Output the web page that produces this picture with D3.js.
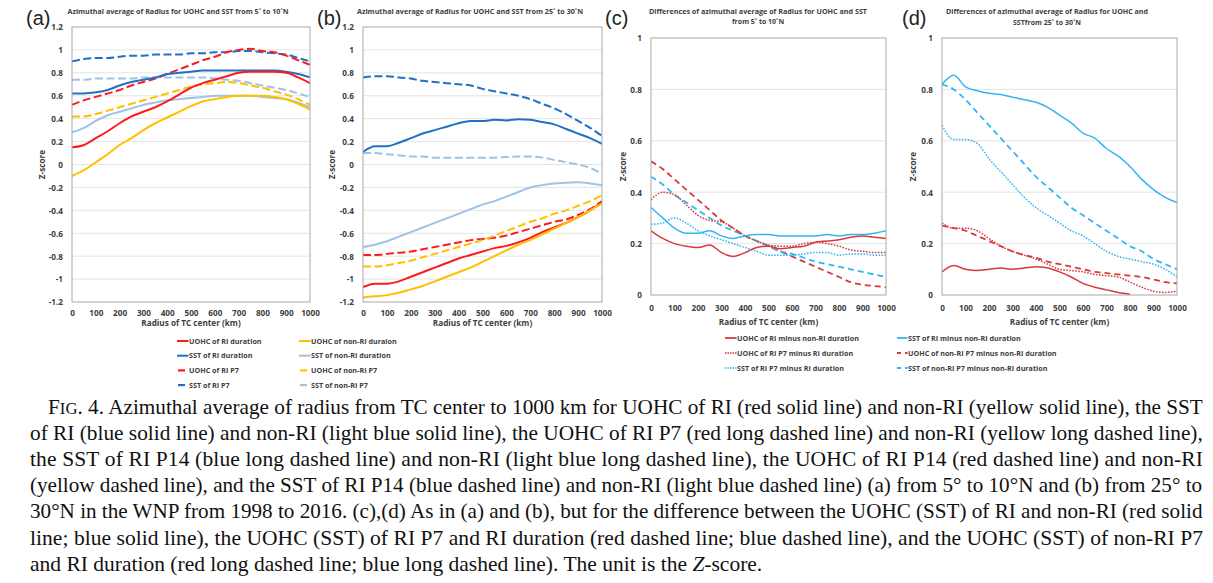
<!DOCTYPE html>
<html><head><meta charset="utf-8">
<script src="https://cdn.jsdelivr.net/npm/d3@7"></script>
<style>
html,body{margin:0;padding:0;background:#fff;}
svg{display:block;}
</style>
</head><body>
<svg id="chart" width="1213" height="583"></svg>
<script>
// ---------- data ----------
const radius = [0,50,100,150,200,250,300,350,400,450,500,550,600,650,700,750,800,850,900,950,1000];
const xTicks = [0,100,200,300,400,500,600,700,800,900,1000];
const yTicksAB = [-1.2,-1,-0.8,-0.6,-0.4,-0.2,0,0.2,0.4,0.6,0.8,1,1.2];
const yTicksCD = [0,0.2,0.4,0.6,0.8,1];

// panel (a) 5-10N
const a_uohcRI      = [0.15,0.17,0.23,0.29,0.36,0.42,0.46,0.50,0.55,0.61,0.67,0.71,0.74,0.77,0.80,0.81,0.81,0.81,0.80,0.76,0.71];
const a_sstRI       = [0.62,0.62,0.63,0.65,0.69,0.72,0.74,0.76,0.79,0.80,0.81,0.82,0.82,0.82,0.82,0.82,0.82,0.82,0.81,0.79,0.76];
const a_uohcRIP7    = [0.52,0.56,0.59,0.62,0.65,0.69,0.72,0.75,0.79,0.83,0.87,0.91,0.94,0.98,1.00,1.01,0.99,0.98,0.95,0.91,0.87];
const a_sstRIP7     = [0.90,0.92,0.93,0.93,0.94,0.95,0.95,0.96,0.96,0.96,0.97,0.97,0.98,0.98,0.99,0.99,0.98,0.97,0.96,0.93,0.90];
const a_uohcNon     = [-0.10,-0.05,0.02,0.09,0.17,0.23,0.30,0.36,0.41,0.46,0.51,0.55,0.57,0.59,0.60,0.60,0.60,0.59,0.57,0.53,0.48];
const a_sstNon      = [0.28,0.32,0.38,0.43,0.46,0.49,0.52,0.54,0.56,0.57,0.58,0.59,0.60,0.60,0.60,0.60,0.59,0.58,0.57,0.54,0.50];
const a_uohcNonP7   = [0.42,0.42,0.44,0.47,0.50,0.53,0.56,0.59,0.62,0.65,0.68,0.70,0.71,0.72,0.71,0.69,0.67,0.64,0.61,0.57,0.52];
const a_sstNonP7    = [0.74,0.74,0.75,0.75,0.75,0.75,0.76,0.76,0.76,0.76,0.76,0.76,0.75,0.74,0.73,0.71,0.69,0.67,0.65,0.62,0.59];

// panel (b) 25-30N
const b_uohcRI      = [-1.07,-1.04,-1.04,-1.02,-0.98,-0.94,-0.90,-0.86,-0.82,-0.79,-0.76,-0.73,-0.71,-0.68,-0.64,-0.59,-0.55,-0.51,-0.46,-0.40,-0.33];
const b_sstRI       = [0.11,0.16,0.16,0.19,0.23,0.27,0.30,0.33,0.36,0.38,0.38,0.39,0.385,0.395,0.39,0.37,0.35,0.31,0.27,0.23,0.18];
const b_uohcRIP7    = [-0.79,-0.79,-0.78,-0.77,-0.76,-0.74,-0.72,-0.70,-0.68,-0.66,-0.65,-0.64,-0.62,-0.59,-0.56,-0.53,-0.50,-0.48,-0.44,-0.39,-0.32];
const b_sstRIP7     = [0.76,0.77,0.77,0.76,0.75,0.73,0.72,0.71,0.70,0.69,0.66,0.64,0.62,0.60,0.57,0.53,0.49,0.44,0.38,0.32,0.25];
const b_uohcNon     = [-1.16,-1.15,-1.14,-1.12,-1.09,-1.06,-1.02,-0.98,-0.94,-0.90,-0.85,-0.80,-0.75,-0.70,-0.66,-0.61,-0.56,-0.51,-0.46,-0.40,-0.34];
const b_sstNon      = [-0.72,-0.70,-0.67,-0.63,-0.59,-0.55,-0.51,-0.47,-0.43,-0.39,-0.35,-0.32,-0.28,-0.24,-0.20,-0.18,-0.165,-0.16,-0.155,-0.165,-0.18];
const b_uohcNonP7   = [-0.89,-0.89,-0.88,-0.86,-0.84,-0.81,-0.78,-0.75,-0.72,-0.69,-0.66,-0.62,-0.58,-0.54,-0.50,-0.47,-0.43,-0.40,-0.36,-0.32,-0.27];
const b_sstNonP7    = [0.10,0.10,0.09,0.08,0.07,0.07,0.06,0.06,0.06,0.06,0.06,0.06,0.065,0.07,0.07,0.06,0.04,0.02,0.00,-0.03,-0.08];

// panel (c) differences 5-10N
const c_uohcRIminusNon   = [0.25,0.22,0.20,0.19,0.185,0.195,0.165,0.15,0.165,0.185,0.19,0.18,0.185,0.19,0.205,0.21,0.215,0.225,0.23,0.225,0.22];
const c_uohcRIP7minusRI  = [0.37,0.40,0.39,0.35,0.31,0.29,0.285,0.26,0.23,0.21,0.195,0.19,0.19,0.20,0.205,0.20,0.19,0.175,0.17,0.165,0.165];
const c_sstRIP7minusRI   = [0.275,0.28,0.30,0.28,0.25,0.23,0.215,0.20,0.185,0.17,0.155,0.155,0.155,0.16,0.165,0.165,0.155,0.16,0.16,0.155,0.155];
const c_sstRIminusNon    = [0.34,0.30,0.26,0.24,0.24,0.25,0.23,0.22,0.23,0.235,0.235,0.23,0.23,0.23,0.23,0.235,0.23,0.235,0.235,0.24,0.25];
const c_uohcNonP7minusNon= [0.52,0.49,0.45,0.41,0.37,0.33,0.29,0.26,0.23,0.21,0.19,0.17,0.15,0.13,0.11,0.09,0.07,0.05,0.04,0.035,0.03];
const c_sstNonP7minusNon = [0.46,0.43,0.39,0.36,0.33,0.30,0.27,0.25,0.23,0.21,0.19,0.17,0.16,0.145,0.13,0.12,0.11,0.10,0.09,0.08,0.07];

// panel (d) differences 25-30N
const d_uohcRIminusNon   = [0.09,0.115,0.10,0.095,0.10,0.105,0.10,0.105,0.11,0.105,0.09,0.07,0.045,0.03,0.02,0.01,0.003,null,null,null,null];
const d_uohcRIP7minusRI  = [0.28,0.26,0.26,0.25,0.22,0.19,0.17,0.155,0.14,0.12,0.10,0.095,0.09,0.08,0.075,0.07,0.05,0.03,0.015,0.01,0.015];
const d_sstRIP7minusRI   = [0.66,0.605,0.605,0.59,0.53,0.48,0.43,0.38,0.34,0.31,0.28,0.25,0.23,0.20,0.17,0.15,0.14,0.13,0.12,0.10,0.07];
const d_sstRIminusNon    = [0.82,0.855,0.81,0.795,0.785,0.78,0.77,0.76,0.75,0.73,0.70,0.67,0.63,0.61,0.57,0.54,0.50,0.45,0.41,0.38,0.36];
const d_uohcNonP7minusNon= [0.27,0.26,0.25,0.23,0.21,0.19,0.17,0.155,0.145,0.13,0.12,0.11,0.10,0.09,0.085,0.08,0.075,0.07,0.06,0.05,0.045];
const d_sstNonP7minusNon = [0.82,0.80,0.76,0.71,0.66,0.61,0.56,0.51,0.46,0.42,0.38,0.34,0.31,0.28,0.25,0.22,0.19,0.17,0.14,0.12,0.10];

// legend labels
const legendAB_left  = ["UOHC of RI duration","SST of RI duration","UOHC of RI P7","SST of RI P7"];
const legendAB_right = ["UOHC of non-RI duraion","SST of non-RI duration","UOHC of non-RI P7","SST of non-RI P7"];
const legendCD_left  = ["UOHC of RI minus non-RI duration","UOHC of RI P7 minus RI duration","SST of RI P7 minus RI duration"];
const legendCD_right = ["SST of RI minus non-RI duration","UOHC of non-RI P7 minus non-RI duration","SST of non-RI P7 minus non-RI duration"];

const captionLines = [
 "Azimuthal average of radius from TC center to 1000 km for UOHC of RI (red solid line) and non-RI (yellow solid line), the SST",
 "of RI (blue solid line) and non-RI (light blue solid line), the UOHC of RI P7 (red long dashed line) and non-RI (yellow long dashed line),",
 "the SST of RI P14 (blue long dashed line) and non-RI (light blue long dashed line), the UOHC of RI P14 (red dashed line) and non-RI",
 "(yellow dashed line), and the SST of RI P14 (blue dashed line) and non-RI (light blue dashed line) (a) from 5° to 10°N and (b) from 25° to",
 "30°N in the WNP from 1998 to 2016. (c),(d) As in (a) and (b), but for the difference between the UOHC (SST) of RI and non-RI (red solid",
 "line; blue solid line), the UOHC (SST) of RI P7 and RI duration (red dashed line; blue dashed line), and the UOHC (SST) of non-RI P7",
 "and RI duration (red long dashed line; blue long dashed line). The unit is the "
];

// ---------- styles ----------
const RED="#FF1A1A", BLUE="#1F70C8", YEL="#FFC000", LBLUE="#9DC3E6";
const DRED="#D63A3A", SKY="#33B5F4";
const LONG="8,3.5", DOT="1.6,1.4", DASH_CD="6,4";
const FONT="'Open Sans', 'Liberation Sans', sans-serif";

const svg = d3.select("#chart");
svg.append("rect").attr("width",1213).attr("height",583).attr("fill","#fff");
const defs = svg.append("defs");

const fmt = v => String(Math.round(v*10)/10);

const panels = [
 {id:"a", label:"(a)", lx:26, ly:25, box:[72,310,27,302], dom:[-1.2,1.2], yt:yTicksAB,
  title:["Azimuthal average of Radius for UOHC and SST from 5˚ to 10˚N"], tx:178, ty:[14], tw:[221],
  zx:42, xlabY:326, tickY:316, sw:2,
  series:[
   {v:a_sstRIP7,   c:BLUE,  d:LONG},
   {v:a_sstNonP7,  c:LBLUE, d:LONG},
   {v:a_uohcRIP7,  c:RED,   d:LONG},
   {v:a_uohcNonP7, c:YEL,   d:LONG},
   {v:a_sstRI,     c:BLUE,  d:null},
   {v:a_sstNon,    c:LBLUE, d:null},
   {v:a_uohcRI,    c:RED,   d:null},
   {v:a_uohcNon,   c:YEL,   d:null}]},
 {id:"b", label:"(b)", lx:317, ly:25, box:[363,602,27,302], dom:[-1.2,1.2], yt:yTicksAB,
  title:["Azimuthal average of Radius for UOHC and SST from 25˚ to 30˚N"], tx:470, ty:[14], tw:[226],
  zx:332, xlabY:326, tickY:316, sw:2,
  series:[
   {v:b_sstRIP7,   c:BLUE,  d:LONG},
   {v:b_sstNonP7,  c:LBLUE, d:LONG},
   {v:b_uohcRIP7,  c:RED,   d:LONG},
   {v:b_uohcNonP7, c:YEL,   d:LONG},
   {v:b_sstRI,     c:BLUE,  d:null},
   {v:b_sstNon,    c:LBLUE, d:null},
   {v:b_uohcRI,    c:RED,   d:null},
   {v:b_uohcNon,   c:YEL,   d:null}]},
 {id:"c", label:"(c)", lx:605, ly:25, box:[651,886,38,295], dom:[0,1], yt:yTicksCD,
  title:["Differences of azimuthal average of Radius for UOHC and SST","from 5˚ to 10˚N"], tx:758, ty:[14,24], tw:[218,null],
  zx:623, xlabY:325, tickY:311, sw:1.5,
  series:[
   {v:c_uohcNonP7minusNon, c:DRED, d:DASH_CD, w:1.8},
   {v:c_sstNonP7minusNon,  c:SKY,  d:DASH_CD, w:1.8},
   {v:c_uohcRIP7minusRI,   c:DRED, d:DOT},
   {v:c_sstRIP7minusRI,    c:SKY,  d:DOT},
   {v:c_sstRIminusNon,     c:SKY,  d:null},
   {v:c_uohcRIminusNon,    c:DRED, d:null}]},
 {id:"d", label:"(d)", lx:902, ly:25, box:[942,1177,38,295], dom:[0,1], yt:yTicksCD,
  title:["Differences of azimuthal average of Radius for UOHC and","SSTfrom 25˚ to 30˚N"], tx:1047, ty:[14,25], tw:[202,null],
  zx:913, xlabY:325, tickY:311, sw:1.5,
  series:[
   {v:d_uohcNonP7minusNon, c:DRED, d:DASH_CD, w:1.8},
   {v:d_sstNonP7minusNon,  c:SKY,  d:DASH_CD, w:1.8},
   {v:d_uohcRIP7minusRI,   c:DRED, d:DOT},
   {v:d_sstRIP7minusRI,    c:SKY,  d:DOT},
   {v:d_sstRIminusNon,     c:SKY,  d:null},
   {v:d_uohcRIminusNon,    c:DRED, d:null}]}
];

panels.forEach(p=>{
  const [x0,x1,y0,y1] = p.box;
  const x = d3.scaleLinear().domain([0,1000]).range([x0,x1]);
  const y = d3.scaleLinear().domain(p.dom).range([y1,y0]);
  const g = svg.append("g");

  // grid
  g.append("g").selectAll("line").data(p.yt.slice(1,-1)).join("line")
   .attr("x1",x0).attr("x2",x1).attr("y1",d=>y(d)).attr("y2",d=>y(d))
   .attr("stroke","#E4E4E4").attr("stroke-width",1);

  // clip
  defs.append("clipPath").attr("id","clip-"+p.id).append("rect")
   .attr("x",x0).attr("y",y0).attr("width",x1-x0).attr("height",y1-y0);

  const line = d3.line().defined(d=>d[1]!==null).x(d=>x(d[0])).y(d=>y(d[1])).curve(d3.curveMonotoneX);
  const lg = g.append("g").attr("clip-path","url(#clip-"+p.id+")");
  p.series.forEach(s=>{
    lg.append("path").datum(radius.map((r,i)=>[r,s.v[i]]))
     .attr("d",line).attr("fill","none").attr("stroke",s.c)
     .attr("stroke-width",s.w||p.sw).attr("stroke-dasharray",s.d)
     .attr("stroke-linejoin","round");
  });

  // frame
  g.append("rect").attr("x",x0).attr("y",y0).attr("width",x1-x0).attr("height",y1-y0)
   .attr("fill","none").attr("stroke","#A8A8A8").attr("stroke-width",1);

  // axes (labels only, Excel style)
  const ya = d3.axisLeft(y).tickValues(p.yt).tickFormat(fmt).tickSize(0).tickPadding(0);
  const yg = g.append("g").attr("transform",`translate(${x0-9},0)`).call(ya);
  yg.select(".domain").remove();
  yg.selectAll("text").attr("font-family",FONT).attr("font-size",8.2).attr("font-weight","bold").attr("fill","#404040").attr("dy","0.35em");

  const xa = d3.axisBottom(x).tickValues(xTicks).tickFormat(d=>String(d)).tickSize(0).tickPadding(0);
  const xg = g.append("g").attr("transform",`translate(0,${p.tickY-6})`).call(xa);
  xg.select(".domain").remove();
  xg.selectAll("text").attr("font-family",FONT).attr("font-size",8.2).attr("font-weight","bold").attr("fill","#404040").attr("dy","0.71em");

  // axis titles
  g.append("text").attr("x",(x0+x1)/2).attr("y",p.xlabY).attr("text-anchor","middle")
   .attr("font-family",FONT).attr("font-size",8.2).attr("font-weight","bold").attr("fill","#404040")
   .text("Radius of TC center (km)");
  g.append("text").attr("transform",`translate(${p.zx},${(y0+y1)/2}) rotate(-90)`).attr("text-anchor","middle")
   .attr("dy","0.35em").attr("font-family",FONT).attr("font-size",8.2).attr("font-weight","bold").attr("fill","#404040")
   .text("Z-score");

  // titles
  p.title.forEach((t,i)=>{
    const tt = g.append("text").attr("x",p.tx).attr("y",p.ty[i]).attr("text-anchor","middle")
     .attr("font-family",FONT).attr("font-size",7).attr("font-weight","bold").attr("fill","#404040").text(t);
    if(p.tw[i]) tt.attr("textLength",p.tw[i]).attr("lengthAdjust","spacingAndGlyphs");
  });

  // panel label
  g.append("text").attr("x",p.lx).attr("y",p.ly).attr("font-family","'Liberation Sans', Arial, sans-serif")
   .attr("font-size",20).attr("fill","#222").text(p.label);
});

// ---------- legends ----------
function legend(items, styles, lx, tx, y0, dy){
  const g = svg.append("g");
  items.forEach((t,i)=>{
    const yy = y0 + i*dy, st = styles[i];
    if(st.short){
      g.append("line").attr("x1",lx+1).attr("x2",lx+8).attr("y1",yy).attr("y2",yy)
       .attr("stroke",st.c).attr("stroke-width",st.w);
    } else if(st.split){
      g.append("line").attr("x1",lx).attr("x2",lx+4).attr("y1",yy).attr("y2",yy).attr("stroke",st.c).attr("stroke-width",st.w);
      g.append("line").attr("x1",lx+8).attr("x2",tx-0.5).attr("y1",yy).attr("y2",yy).attr("stroke",st.c).attr("stroke-width",st.w);
    } else {
      g.append("line").attr("x1",lx).attr("x2",tx-0.5).attr("y1",yy).attr("y2",yy)
       .attr("stroke",st.c).attr("stroke-width",st.w).attr("stroke-dasharray",st.d||null);
    }
    g.append("text").attr("x",tx).attr("y",yy).attr("dy","0.35em")
     .attr("font-family",FONT).attr("font-size",7.2).attr("font-weight","bold").attr("fill","#404040").text(t);
  });
}
legend(legendAB_left,  [{c:RED,w:2},{c:BLUE,w:2},{c:RED,w:2.2,short:1},{c:BLUE,w:2.2,short:1}], 177, 189, 341, 14.7);
legend(legendAB_right, [{c:YEL,w:2},{c:LBLUE,w:2},{c:YEL,w:2.2,short:1},{c:LBLUE,w:2.2,short:1}], 299, 311, 341, 14.7);
legend(legendCD_left,  [{c:DRED,w:1.8},{c:DRED,w:1.3,d:"1.5,1"},{c:SKY,w:1.3,d:"1.5,1"}], 725, 737, 338, 15);
legend(legendCD_right, [{c:SKY,w:1.8},{c:DRED,w:2,split:1},{c:SKY,w:2,split:1}], 897, 908, 338, 15);

// ---------- caption ----------
const cap = svg.append("g").attr("font-family","'Liberation Serif', 'Times New Roman', serif").attr("font-size",21.5).attr("fill","#111");
const capY0 = 414, capDy = 26.1, capL = 30, capR = 1203;
captionLines.forEach((t,i)=>{
  const isFirst = i===0, isLast = i===captionLines.length-1;
  const xs = isFirst ? 48 : capL;
  const yy = capY0+i*capDy;
  const tx = cap.append("text").attr("x",0).attr("y",0).attr("transform",`translate(${xs},${yy})`);
  if(isFirst){
    tx.append("tspan").text("F");
    tx.append("tspan").attr("font-size",17).text("IG");
    tx.append("tspan").text(". 4. "+t);
  } else if(isLast){
    tx.append("tspan").text(t);
    tx.append("tspan").attr("font-style","italic").text("Z");
    tx.append("tspan").text("-score.");
  } else {
    tx.text(t);
  }
  if(!isLast){
    const target = capR - xs;
    const w = tx.node().getComputedTextLength();
    if(w > target){
      tx.attr("transform",`translate(${xs},${yy}) scale(${target/w},1)`);
    } else {
      tx.attr("textLength",target).attr("lengthAdjust","spacing");
    }
  }
});
</script>
</body></html>
